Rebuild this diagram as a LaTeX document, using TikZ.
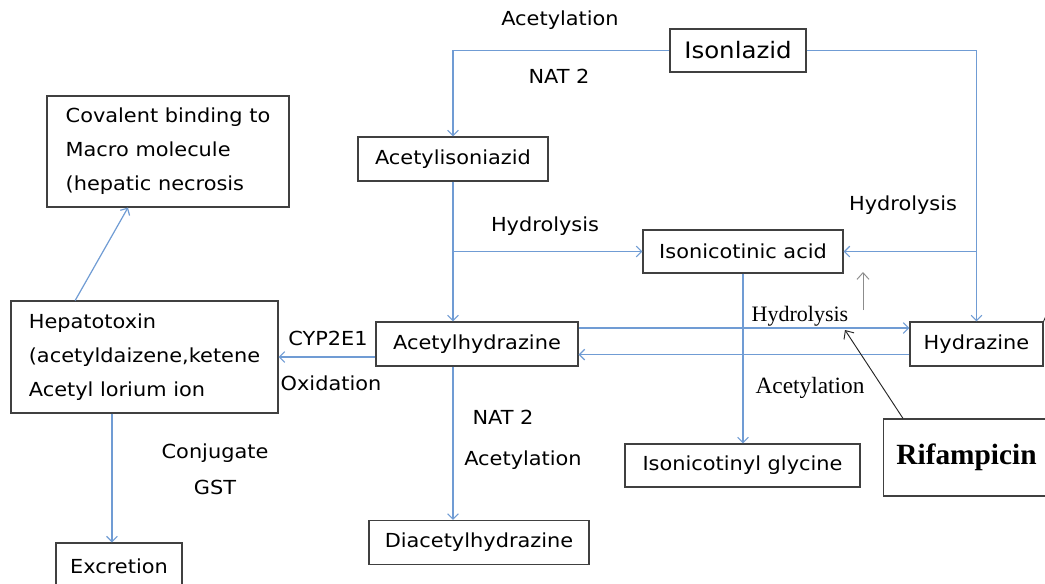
\documentclass[tikz,border=0pt]{standalone}
\usepackage{fontspec}
\setmainfont{DejaVu Sans}[FakeStretch=1.08]
\newfontfamily\serifx{Liberation Serif}
\usetikzlibrary{arrows.meta}
\definecolor{flowblue}{RGB}{112,156,212}
\newcommand{\boxfont}{\fontsize{14.5}{25.5}\selectfont}
\newcommand{\bigboxfont}{\fontsize{17}{20}\selectfont}
\newcommand{\seriffont}{\serifx\fontsize{16.5}{19}\selectfont}

\begin{document}
\begin{tikzpicture}[x=0.75pt,y=-0.75pt,
  box/.style={draw=black!75,line width=0.8pt,inner sep=0pt,font=\boxfont},
  flow/.style={draw=flowblue,line width=0.9pt,-{Straight Barb[length=4pt,width=8pt]}},
  lbl/.style={inner sep=0pt,font=\boxfont},
  slbl/.style={inner sep=0pt,font=\seriffont}]
  \useasboundingbox[fill=white] (0,0) rectangle (1045,583);

  % compounds
  \node[box,minimum width=181.5pt,minimum height=83.25pt,align=left] (cov)  at (168,151.5) {Covalent binding to\\Macro molecule\\(hepatic necrosis};
  \node[box,minimum width=200.25pt,minimum height=84pt,align=left]   (hep)  at (144.5,357) {Hepatotoxin\\(acetyldaizene,ketene\\Acetyl lorium ion};
  \node[box,minimum width=94.5pt,minimum height=34.5pt]              (exc)  at (119,566)   {Excretion};
  \node[box,minimum width=102pt,minimum height=32.25pt,font=\bigboxfont] (inh) at (738,50.5) {Isonlazid};
  \node[box,minimum width=142.5pt,minimum height=33pt]               (acis) at (453,159)   {Acetylisoniazid};
  \node[box,minimum width=150pt,minimum height=32.25pt]              (ina)  at (743,251.5) {Isonicotinic acid};
  \node[box,minimum width=151.5pt,minimum height=33pt]               (acet) at (477,344)   {Acetylhydrazine};
  \node[box,minimum width=99.75pt,minimum height=33pt]               (hyd)  at (976.5,344) {Hydrazine};
  \node[box,minimum width=176.25pt,minimum height=32.25pt]           (ing)  at (742.5,465.5) {Isonicotinyl glycine};
  \node[box,minimum width=165pt,minimum height=33pt]                 (dia)  at (479,542.5) {Diacetylhydrazine};
  \node[box,minimum width=125pt,minimum height=57.75pt,font=\serifx\bfseries\fontsize{22}{24}\selectfont] (rif) at (966.5,457.5) {Rifampicin};

  % labels
  \node[lbl]  (l1)  at (560,20)  {Acetylation};
  \node[lbl]  (l2)  at (559,76)  {NAT 2};
  \node[lbl]  (l3)  at (545,226) {Hydrolysis};
  \node[lbl]  (l4)  at (903,205) {Hydrolysis};
  \node[slbl] (l5)  at (800,316) {Hydrolysis};
  \node[slbl,font=\serifx\fontsize{17.5}{19}\selectfont] (l6) at (810,388) {Acetylation};
  \node[lbl]  (l7)  at (503,417) {NAT 2};
  \node[lbl]  (l8)  at (523,460) {Acetylation};
  \node[lbl]  (l9)  at (328,338) {CYP2E1};
  \node[lbl]  (l10) at (331,383) {Oxidation};
  \node[lbl]  (l11) at (215,453) {Conjugate};
  \node[lbl]  (l12) at (215,487) {GST};

  \coordinate (br)     at (acis.south |- ina.west);
  \coordinate (rifend) at (845,330);
  \coordinate (gbot)   at (863,310);
  \coordinate (gtop)   at (863,272);
  \coordinate (offedge) at (1054,298);

  % pathways
  \draw[flow] (inh.west) -| (acis.south |- acis.north);
  \draw[flow] (inh.east) -| (hyd.north);
  \draw[flow] (acis.south) -- (acis.south |- acet.north);
  \draw[flow] (br) -- (ina.west);
  \draw[flow] (hyd.north |- ina.east) -- (ina.east);
  \draw[flow] (ina.south) -- (ina.south |- ing.north);
  \draw[flow] ([yshift=12pt]acet.east) -- ([yshift=12pt]hyd.west);
  \draw[flow] ([yshift=-8pt]hyd.west) -- ([yshift=-8pt]acet.east);
  \draw[flow] (hep.east -| acet.west) -- (hep.east);
  \draw[flow] ([xshift=-52pt]hep.north) -- ([xshift=-30pt]cov.south);
  \draw[flow] ([xshift=-24.4pt]hep.south) -- ([xshift=-24.4pt]hep.south |- exc.north);
  \draw[flow] (acis.south |- acet.south) -- (acis.south |- dia.north);
  \draw[black!85,line width=0.7pt,-{Straight Barb[length=5pt,width=9pt]}] ([xshift=-47.6pt]rif.north) -- (rifend);
  \draw[black!45,line width=0.7pt,-{Straight Barb[length=5pt,width=9pt]}] (gbot) -- (gtop);
  \draw[black!85,line width=0.7pt] (hyd.north east) -- (offedge);
\end{tikzpicture}
\end{document}
